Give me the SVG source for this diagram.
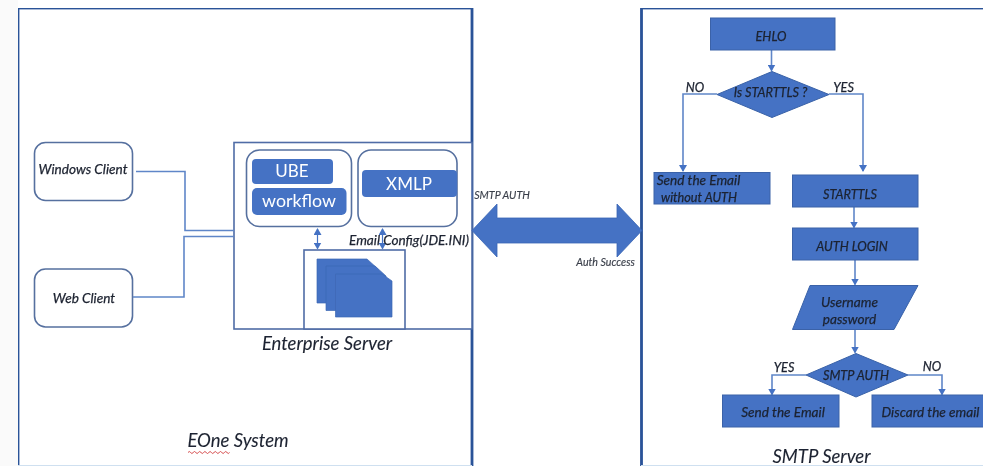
<svg xmlns="http://www.w3.org/2000/svg" width="983" height="466" viewBox="0 0 983 466">
<style>
text{font-family:Lato,"Liberation Sans",sans-serif;font-style:italic;fill:#1c2230;stroke:#1c2230;stroke-width:.25;text-anchor:middle}
.frame{fill:#fff;stroke:#2a5298;stroke-width:2.8}
.box{fill:#fff;stroke:#4f6ca6;stroke-width:1.6}
.round{fill:#fff;stroke:#56709f;stroke-width:1.6}
.fill{fill:#4472c4;stroke:#3a62a8;stroke-width:1}
.pill{fill:#4472c4}
.doc{fill:#4472c4;stroke:#3e68b4;stroke-width:.7}
.link{fill:none;stroke:#5f86c8;stroke-width:1.6}
.arrow{fill:none;stroke:#5f86c8;stroke-width:1.6;marker-end:url(#tip)}
.both{fill:none;stroke:#4472c4;stroke-width:1.2;marker-start:url(#tipS);marker-end:url(#tip)}
.lab{font-size:13.6px}
.cap{font-size:12.7px}
.title{font-size:18.5px;stroke-width:.1}
.small{font-size:10.7px;fill:#3a3f4a;stroke:#3a3f4a;stroke-width:.15}
.up{font-style:normal;fill:#fff;stroke:none;font-size:17px}
</style>
<defs>
<marker id="tip" markerUnits="userSpaceOnUse" markerWidth="9" markerHeight="8" refX="6" refY="4" orient="auto"><path d="M0 0L7 4L0 8Z" fill="#4472c4"/></marker>
<marker id="tipS" markerUnits="userSpaceOnUse" markerWidth="9" markerHeight="8" refX="1" refY="4" orient="auto"><path d="M7 0L0 4L7 8Z" fill="#4472c4"/></marker>
<filter id="soft" x="0" y="0" width="100%" height="100%"><feGaussianBlur stdDeviation="0.5"/></filter>
</defs>
<rect width="983" height="466" fill="#fff"/>
<rect width="18" height="466" fill="#fafafa"/>
<g filter="url(#soft)">
<g id="eone-system">
<rect class="frame" x="18" y="8" width="454" height="462"/>
<path d="M18 465.5H472" stroke="#cfe0f0" stroke-width="1"/>
<text class="title" x="238" y="447">EOne System</text>
<path d="M188 452.5q1.3-2 2.6 0t2.6 0t2.6 0t2.6 0t2.6 0t2.6 0t2.6 0t2.6 0t2.6 0t2.6 0t2.6 0t2.6 0t2.6 0t2.6 0t2.6 0t2.6 0" fill="none" stroke="#d0393a" stroke-width=".9"/>
</g>
<g id="smtp-server">
<rect class="frame" x="641.5" y="8" width="345" height="462"/>
<path d="M641 465.5H983" stroke="#cfe0f0" stroke-width="1"/>
<text class="title" x="821.5" y="463">SMTP Server</text>
</g>
<g id="enterprise-server">
<rect class="box" x="234" y="142.5" width="238" height="186.5"/>
<text class="title" x="327" y="350">Enterprise Server</text>
</g>
<g id="windows-client"><rect class="round" x="34.5" y="142.5" width="98" height="58" rx="11"/><text class="lab" x="83" y="174">Windows Client</text></g>
<g id="web-client"><rect class="round" x="34.5" y="269" width="98" height="58" rx="11"/><text class="lab" x="84" y="303">Web Client</text></g>
<g id="ube-group"><rect class="round" x="246.5" y="150" width="105" height="76.5" rx="13"/>
<rect class="pill" x="252" y="159" width="81" height="25" rx="4"/><text class="up" x="292" y="177">UBE</text>
<rect class="pill" x="252" y="188" width="94.5" height="27" rx="5"/><text class="up" x="299" y="207" style="font-size:17.8px">workflow</text></g>
<g id="xmlp-group"><rect class="round" x="358" y="150" width="99" height="76.5" rx="13"/>
<rect class="pill" x="362" y="170" width="95" height="27" rx="4"/><text class="up" x="409" y="189.5">XMLP</text></g>
<g id="config-store"><rect class="box" x="304" y="250" width="101" height="79"/>
<path class="doc" d="M317 259H367L378 269V303H317Z"/>
<path class="doc" d="M326 266H375L386 276V310.5H326Z"/>
<path class="doc" d="M335.5 274H382L392 281V317H335.5Z"/>
</g>
<g id="connectors">
<path class="link" d="M136 171.5H185V230.5H234"/>
<path class="link" d="M133 297H184V236.5H234"/>
<path class="both" d="M317.5 229V248.5"/>
<path class="both" d="M382.5 229V248.5"/>
<path d="M472 230.5L497 204V218H617V204L642 230.5L617 257V243H497V257Z" fill="#4472c4" stroke="#3a66b5" stroke-width=".8"/>
<path class="arrow" d="M771.5 50V70.5"/>
<path class="arrow" d="M717 94H683V171"/>
<path class="arrow" d="M829 94H863V171"/>
<path class="arrow" d="M854 207V227.5"/>
<path class="arrow" d="M855 260V284.5"/>
<path class="arrow" d="M855 330V352.5"/>
<path class="arrow" d="M806 375H772V394.5"/>
<path class="arrow" d="M908 375H942V394.5"/>
</g>
<text class="lab" x="409" y="245">Email Config(JDE.INI)</text>
<text class="small" x="502" y="198.5">SMTP AUTH</text>
<text class="small" x="605.5" y="266">Auth Success</text>
<g id="ehlo"><rect class="fill" x="710.5" y="18" width="124.5" height="32"/><text class="cap" x="771" y="41">EHLO</text></g>
<g id="is-starttls"><path class="fill" d="M772 71.5L829 94.5L772 117.5L717 94.5Z"/><text class="cap" x="770.5" y="97">Is STARTTLS ?</text></g>
<text class="cap" x="695" y="92">NO</text>
<text class="cap" x="843.5" y="92">YES</text>
<g id="send-without-auth"><rect class="fill" x="654" y="172.5" width="116" height="31.5"/><text class="lab" x="698.5" y="184.5">Send the Email</text><text class="cap" x="699" y="201.5">without AUTH</text></g>
<g id="starttls"><rect class="fill" x="792.5" y="175" width="125.5" height="32"/><text class="cap" x="850" y="199">STARTTLS</text></g>
<g id="auth-login"><rect class="fill" x="792.5" y="228" width="125.5" height="32"/><text class="cap" x="852" y="251">AUTH LOGIN</text></g>
<g id="credentials"><path class="fill" d="M810 285.5H918L894 329.5H792.5Z"/><text class="lab" x="849.5" y="307">Username</text><text class="lab" x="849.5" y="324">password</text></g>
<g id="smtp-auth"><path class="fill" d="M856 353.5L908 375L856 397L806 375Z"/><text class="cap" x="856" y="380">SMTP AUTH</text></g>
<text class="cap" x="784" y="372">YES</text>
<text class="cap" x="932" y="371">NO</text>
<g id="send-email"><rect class="fill" x="722.5" y="395" width="116.5" height="32"/><text class="lab" x="783" y="417">Send the Email</text></g>
<g id="discard-email"><rect class="fill" x="872" y="395" width="113" height="32"/><text class="lab" x="930.5" y="417">Discard the email</text></g>
</g>
</svg>
